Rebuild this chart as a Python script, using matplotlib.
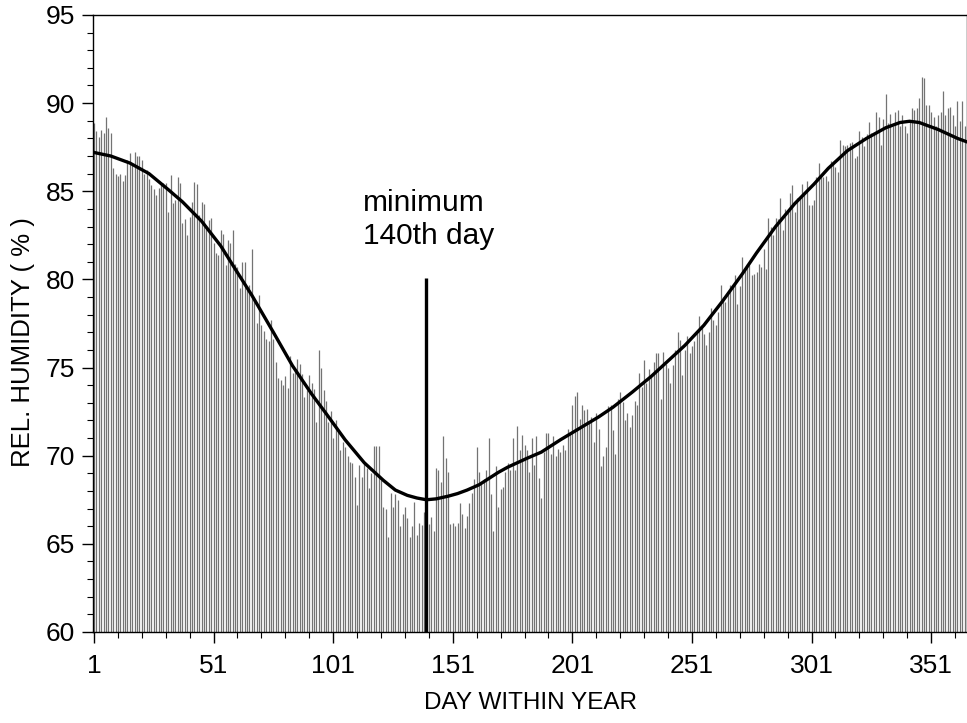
import numpy as np
import matplotlib
matplotlib.use("Agg")
import matplotlib.pyplot as plt
from matplotlib.ticker import MultipleLocator, FixedLocator

plt.rcParams['font.family'] = ['Liberation Sans', 'DejaVu Sans']

# daily mean relative humidity (%), day 1 .. 365
rh_daily = [
    88.9, 88.4, 88.1, 88.5, 88.3, 89.2, 88.6, 88.3, 86.3, 86.0,
    85.85, 86.0, 85.6, 85.9, 86.8, 87.15, 86.6, 87.2, 87.0, 87.0,
    86.8, 86.0, 86.2, 85.7, 85.35, 85.1, 84.8, 85.2,
    85.35, 85.45, 85.49, 83.84, 85.92, 84.32, 84.5, 85.82, 85.49, 83.18,
    83.4, 82.52, 83.55, 84.4, 85.5, 85.4, 83.65, 84.4, 84.3, 82.9,
    83.37, 83.46, 82.05, 81.48, 81.4, 82.8, 82.6, 80.82, 82.24, 82.05,
    82.8, 80.9,
    80.7, 79.5, 81.0, 81.0, 79.4, 79.7, 81.7, 78.9, 77.5, 79.1,
    77.4, 77.1, 76.6, 76.5, 77.7, 76.6, 75.3, 74.4, 74.3, 74.0,
    74.5, 73.85, 75.65, 74.7, 74.9, 75.5, 75.2, 74.65, 73.35,
    73.7, 74.6, 74.1, 73.8, 71.9, 76.0, 75.0, 73.7, 73.1, 71.9,
    72.55, 71.0, 72.0, 71.45, 70.3, 70.8, 70.5, 70.0, 69.66, 69.6,
    68.8, 67.2, 69.5, 68.8, 69.6, 69.3, 68.15, 69.0, 70.55, 70.55,
    70.55,
    68.6, 67.1, 67.0, 65.4, 67.9, 67.1, 67.8, 67.5, 66.0, 66.7,
    67.1, 66.45, 65.4, 66.0, 67.4, 65.5, 66.2, 66.05, 66.8, 67.0,
    66.1, 66.5, 65.7, 69.3, 69.2, 68.5, 71.1, 69.85, 69.1, 66.1,
    66.2,
    66.0, 66.2, 67.3, 66.7, 65.9, 66.6, 67.3, 67.9, 68.66, 70.5,
    69.1, 68.4, 68.7, 69.2, 71.0, 67.8, 65.7, 69.4, 67.1, 68.1,
    68.2, 69.1, 69.6, 69.2, 71.0, 69.2, 71.7, 70.3, 71.2, 70.6,
    70.3, 69.1, 71.0, 69.5, 71.1, 68.75, 67.6, 70.2, 71.3, 71.3,
    70.1, 71.1, 70.0, 70.4, 70.2, 70.6, 70.3, 71.5, 71.3, 72.9,
    73.4, 73.6, 72.1, 72.9, 72.6, 72.65, 71.95, 72.2, 70.8, 72.4,
    71.5, 69.4, 70.0, 70.5, 72.8, 72.9, 71.45, 70.1, 73.2, 73.6,
    73.05, 72.0, 72.4, 71.65, 72.3, 73.1, 72.85, 74.7, 73.9, 75.4,
    74.1, 74.9, 74.5, 75.3, 75.85, 75.85, 73.2, 75.9, 75.2, 75.0,
    74.1,
    75.15, 76.0, 77.0, 76.55, 74.6, 76.0, 76.8, 75.8, 76.2, 76.5,
    77.1, 77.9, 77.3, 76.9, 76.3, 77.0, 78.4, 77.7, 77.4, 78.15,
    79.7, 79.0, 78.7, 79.2, 79.7, 79.6, 80.25, 78.6, 79.6, 81.25,
    80.6, 80.9, 80.8, 80.25, 80.3, 80.4, 80.9, 80.7, 81.7, 80.6,
    83.5, 83.0, 82.5, 83.5, 83.4, 84.6, 82.8, 84.0, 83.9, 84.9,
    85.35, 83.8, 84.6, 84.7, 85.4, 84.85, 85.6, 84.2, 84.2, 84.5,
    85.8, 86.6, 86.0, 85.8, 85.85, 85.6, 86.7, 86.6, 86.35, 86.1,
    87.9, 87.6, 87.55, 87.6, 87.75, 87.8, 86.9, 87.0, 88.4, 88.1,
    87.55, 88.25, 88.95, 88.3, 88.25, 89.5, 89.2, 87.6, 89.1, 90.5,
    88.9, 89.4, 88.7, 89.5, 89.6, 88.7, 89.3, 88.7, 88.3, 89.0,
    89.7, 89.6, 89.7, 90.3, 91.5, 91.4, 89.9, 89.9, 89.5, 89.2,
    88.7, 89.3, 89.5, 90.7, 89.3, 89.7, 89.8, 89.3, 88.7, 90.1,
    89.0, 90.1, 88.7,
]
days = np.arange(1, len(rh_daily) + 1)

# smoothed annual course
curve_day = [1, 8, 16, 24, 32, 38, 46, 54, 60, 67, 76, 84, 92, 98, 106,
             114, 122, 127, 132, 136, 140, 144, 149, 153, 157, 162, 166,
             170, 174, 178, 182, 188, 196, 204, 212, 218, 226, 234, 242,
             248, 256, 264, 272, 278, 286, 294, 302, 308, 316, 324, 332,
             338, 342, 346, 354, 362, 366]
curve_rh = [87.2, 87.0, 86.6, 86.0, 85.1, 84.4, 83.3, 81.9, 80.6, 79.1,
            77.0, 75.1, 73.5, 72.4, 70.9, 69.6, 68.6, 68.05, 67.75, 67.6,
            67.5, 67.55, 67.7, 67.85, 68.05, 68.35, 68.7, 69.05, 69.35,
            69.6, 69.85, 70.2, 70.9, 71.55, 72.2, 72.75, 73.6, 74.5, 75.5,
            76.25, 77.4, 78.8, 80.3, 81.5, 83.0, 84.3, 85.4, 86.3, 87.3,
            88.0, 88.6, 88.9, 88.97, 88.9, 88.5, 88.0, 87.8]

min_day = 140
min_line_top = 80.1
xticks = [1, 51, 101, 151, 201, 251, 301, 351]

fig = plt.figure(figsize=(9.67, 7.23), dpi=100)
ax = fig.add_axes([0.0962, 0.1259, 0.9038, 0.8534])

ax.vlines(days, 60, rh_daily, color='0.45', lw=0.9)
ax.plot(curve_day, curve_rh, color='black', lw=2.4)
ax.vlines(min_day, 60, min_line_top, color='black', lw=2.4)
ax.text(113.3, 83.4, 'minimum\n140th day', fontsize=21.5, ha='left',
        va='center', linespacing=1.25)

ax.set_xlim(0.6, 366)
ax.set_ylim(60, 95)
ax.xaxis.set_major_locator(FixedLocator(xticks))
ax.xaxis.set_minor_locator(FixedLocator(list(range(11, 366, 10))))
ax.yaxis.set_major_locator(MultipleLocator(5))
ax.yaxis.set_minor_locator(MultipleLocator(1))
ax.tick_params(which='major', direction='out', length=8, width=1,
               labelsize=19, pad=5)
ax.tick_params(which='minor', direction='out', length=4, width=0.8)
ax.tick_params(axis='x', pad=8)

ax.set_xlabel('DAY WITHIN YEAR', fontsize=17.5, labelpad=10)
ax.set_ylabel('REL. HUMIDITY ( % )', fontsize=18.5)
ax.yaxis.set_label_coords(-0.066, 0.47)

for s in ax.spines.values():
    s.set_linewidth(1)

fig.savefig('out.png', dpi=100)
